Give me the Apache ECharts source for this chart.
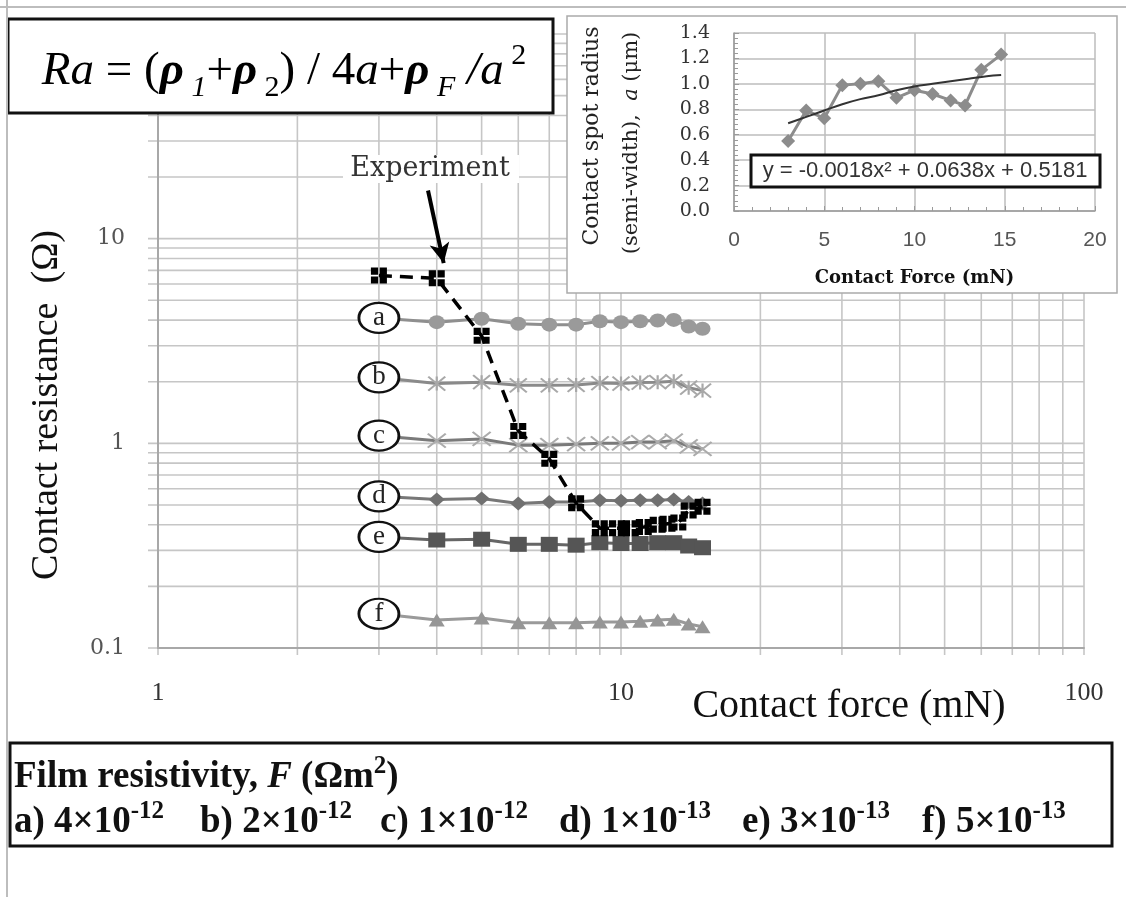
<!DOCTYPE html>
<html><head><meta charset="utf-8">
<script src="https://cdn.jsdelivr.net/npm/echarts@6/dist/echarts.min.js"></script>
<style>html,body{margin:0;padding:0;background:#fff}#c{width:1126px;height:897px}</style>
</head><body><div id="c"></div>
<script>
// ---------- data ----------
const forceX = [3, 4, 5, 6, 7, 8, 9, 10, 11, 12, 13, 14, 15];
const resA = [4.10, 3.91, 4.06, 3.84, 3.80, 3.80, 3.95, 3.91, 3.95, 3.98, 4.01, 3.72, 3.63];
const resB = [2.10, 1.96, 1.99, 1.92, 1.92, 1.93, 1.97, 1.96, 1.98, 1.99, 2.01, 1.87, 1.81];
const resC = [1.09, 1.03, 1.05, 0.98, 0.98, 0.99, 1.00, 1.00, 1.015, 1.015, 1.03, 0.967, 0.94];
const resD = [0.551, 0.531, 0.537, 0.508, 0.517, 0.517, 0.527, 0.524, 0.527, 0.527, 0.531, 0.517, 0.508];
const resE = [0.349, 0.337, 0.340, 0.321, 0.321, 0.318, 0.327, 0.324, 0.324, 0.327, 0.327, 0.315, 0.309];
const resF = [0.147, 0.137, 0.140, 0.133, 0.133, 0.133, 0.134, 0.134, 0.135, 0.137, 0.138, 0.131, 0.127];
const seriesLetters = ['a', 'b', 'c', 'd', 'e', 'f'];

const expForce = [3, 4, 5, 6, 7, 8, 9, 9.8, 10.5, 11.2, 12, 12.6, 13.3, 14, 15];
const expRes = [6.6, 6.4, 3.35, 1.15, 0.84, 0.51, 0.385, 0.385, 0.385, 0.39, 0.40, 0.405, 0.41, 0.47, 0.49];

const insetForce = [3, 4, 5, 6, 7, 8, 9, 10, 11, 12, 12.8, 13.7, 14.8];
const insetRadius = [0.55, 0.79, 0.73, 0.99, 1.00, 1.02, 0.89, 0.95, 0.92, 0.87, 0.83, 1.11, 1.23];
const trendForce = [3, 4, 5, 6, 7, 8, 9, 10, 11, 12, 13, 14, 14.8];
const trendRadius = [0.69, 0.74, 0.79, 0.84, 0.88, 0.91, 0.95, 0.98, 1.00, 1.02, 1.04, 1.06, 1.07];

const xGridValues = [1, 2, 3, 4, 5, 6, 7, 8, 9, 10, 20, 30, 40, 50, 60, 70, 80, 90, 100];
const yGridValues = [0.1, 0.2, 0.3, 0.4, 0.5, 0.6, 0.7, 0.8, 0.9, 1, 2, 3, 4, 5, 6, 7, 8, 9, 10, 20, 30, 40, 50, 60, 70, 80, 90, 100];
const xTickLabels = ['1', '10', '100'];
const yTickLabels = ['0.1', '1', '10', ''];

const filmMantissa = ['4', '2', '1', '1', '3', '5'];
const filmExponent = ['-12', '-12', '-12', '-13', '-13', '-13'];
const trendEquation = 'y = -0.0018x² + 0.0638x + 0.5181';

// ---------- styles ----------
const SERIF = "'Liberation Serif','Times New Roman',serif";
const WIDE = "'DejaVu Serif',serif";
const SANS = "'Liberation Sans',Arial,sans-serif";

const mainStyles = [
  {symbol: 'circle', size: [16, 14], color: '#9a9a9a', line: '#8f8f8f'},
  {symbol: 'path://M5,0L5,10M0,0L10,10M0,10L10,0', size: [17, 14], color: '#a8a8a8', line: '#8a8a8a', stroke: true},
  {symbol: 'path://M0,0L10,10M0,10L10,0', size: [18, 14], color: '#ababab', line: '#7a7a7a', stroke: true},
  {symbol: 'diamond', size: [16, 14], color: '#707070', line: '#777777'},
  {symbol: 'rect', size: [17, 15], color: '#555555', line: '#666666'},
  {symbol: 'triangle', size: [16, 13], color: '#969696', line: '#9a9a9a'}
];
const expSymbol = 'path://M0,0h9v9h-9z M11,0h9v9h-9z M0,11h9v9h-9z M11,11h9v9h-9z';

const mainValues = [resA, resB, resC, resD, resE, resF];
const mainSeries = mainValues.map((vals, k) => {
  const st = mainStyles[k];
  return {
    type: 'line', xAxisIndex: 0, yAxisIndex: 0, z: 5,
    symbol: st.symbol, symbolSize: st.size, showSymbol: true,
    itemStyle: st.stroke ? {color: st.color, borderColor: st.color, borderWidth: 2} : {color: st.color},
    lineStyle: {color: st.line, width: 3},
    emphasis: {disabled: true},
    label: {show: false},
    data: forceX.map((x, i) => i === 0 ? {
      value: [x, vals[i]], symbol: 'circle', symbolSize: [40, 30],
      itemStyle: {color: '#ffffff', borderColor: '#111111', borderWidth: 2.5},
      label: {show: true, position: 'inside', formatter: seriesLetters[k], fontFamily: SERIF, fontSize: 27, color: '#222'}
    } : [x, vals[i]])
  };
});

const gridData = xGridValues.map(v => [v, 0.1, 0]).concat(yGridValues.map(v => [1, v, 1]));

const legendRich = {
  b: {fontFamily: SERIF, fontWeight: 'bold', fontSize: 37, lineHeight: 46, fill: '#111'},
  bi: {fontFamily: SERIF, fontWeight: 'bold', fontStyle: 'italic', fontSize: 37, lineHeight: 46, fill: '#111'},
  sp: {fontFamily: SERIF, fontWeight: 'bold', fontSize: 25, lineHeight: 32, verticalAlign: 'top', fill: '#111'}
};

const option = {
  animation: false,
  backgroundColor: '#ffffff',
  grid: [
    {left: 158, top: 34, width: 926, height: 614, outerBoundsMode: 'none'},
    {left: 734, top: 33, width: 361, height: 178, outerBoundsMode: 'none'}
  ],
  xAxis: [
    {type: 'log', logBase: 10, min: 1, max: 100, gridIndex: 0, z: 3,
     axisLine: {show: true, lineStyle: {color: '#a8a8a8', width: 2}},
     axisTick: {show: false}, splitLine: {show: false},
     axisLabel: {margin: 32, fontFamily: SERIF, fontSize: 26, color: '#333',
       formatter: v => xTickLabels[Math.round(Math.log10(v))] || ''}},
    {type: 'value', min: 0, max: 20, interval: 5, gridIndex: 1, z: 11,
     axisLine: {show: true, lineStyle: {color: '#9a9a9a', width: 1.5}},
     axisTick: {show: true, inside: true, length: 5, lineStyle: {color: '#9a9a9a'}},
     minorTick: {show: true, splitNumber: 5, length: 4, lineStyle: {color: '#9a9a9a'}},
     splitLine: {show: true, lineStyle: {color: '#bdbdbd', width: 1.5}},
     axisLabel: {margin: 19, fontFamily: SANS, fontSize: 21, color: '#555'},
     name: 'Contact Force (mN)', nameLocation: 'middle', nameGap: 58,
     nameTextStyle: {fontFamily: WIDE, fontWeight: 'bold', fontSize: 18, color: '#111'}}
  ],
  yAxis: [
    {type: 'log', logBase: 10, min: 0.1, max: 100, gridIndex: 0, z: 3,
     axisLine: {show: true, lineStyle: {color: '#a8a8a8', width: 2}},
     axisTick: {show: false}, splitLine: {show: false},
     axisLabel: {margin: 33, fontFamily: WIDE, fontSize: 22, color: '#555',
       formatter: v => yTickLabels[Math.round(Math.log10(v)) + 1] || ''}},
    {type: 'value', min: 0, max: 1.4, interval: 0.2, gridIndex: 1, z: 11,
     axisLine: {show: true, lineStyle: {color: '#9a9a9a', width: 1.5}},
     axisTick: {show: true, inside: true, length: 5, lineStyle: {color: '#9a9a9a'}},
     minorTick: {show: true, splitNumber: 5, length: 4, lineStyle: {color: '#9a9a9a'}},
     splitLine: {show: true, lineStyle: {color: '#bdbdbd', width: 1.5}},
     axisLabel: {margin: 24, fontFamily: WIDE, fontSize: 19, color: '#333', formatter: v => v.toFixed(1)}}
  ],
  series: [
    {type: 'custom', xAxisIndex: 0, yAxisIndex: 0, z: 1, silent: true, clip: false,
     data: gridData,
     renderItem: (params, api) => {
       const kind = api.value(2);
       if (kind === 0) {
         const p1 = api.coord([api.value(0), 0.1]);
         const p2 = api.coord([api.value(0), 100]);
         return {type: 'line', shape: {x1: p1[0], y1: p1[1] + 7, x2: p2[0], y2: p2[1]},
                 style: {stroke: '#c6c6c6', lineWidth: 1.6}};
       }
       const p1 = api.coord([1, api.value(1)]);
       const p2 = api.coord([100, api.value(1)]);
       return {type: 'line', shape: {x1: p1[0] - 10, y1: p1[1], x2: p2[0], y2: p2[1]},
               style: {stroke: '#c6c6c6', lineWidth: 1.6}};
     }},
    ...mainSeries,
    {type: 'line', xAxisIndex: 0, yAxisIndex: 0, z: 6,
     symbol: expSymbol, symbolSize: [16, 16], showSymbol: true,
     itemStyle: {color: '#000'},
     lineStyle: {color: '#000', width: 3.5, type: [13, 8]},
     emphasis: {disabled: true},
     data: expForce.map((x, i) => [x, expRes[i]]),
     markLine: {silent: true, animation: false, symbol: ['none', 'arrow'], symbolSize: [15, 20],
       lineStyle: {color: '#000', width: 4, type: 'solid'}, label: {show: false},
       emphasis: {disabled: true},
       data: [[{coord: [3.83, 17.2]}, {coord: [4.14, 7.6]}]]}},
    {type: 'line', xAxisIndex: 1, yAxisIndex: 1, z: 12,
     symbol: 'diamond', symbolSize: [14, 14], showSymbol: true,
     itemStyle: {color: '#8c8c8c'}, lineStyle: {color: '#8c8c8c', width: 3},
     emphasis: {disabled: true},
     data: insetForce.map((x, i) => [x, insetRadius[i]])},
    {type: 'line', xAxisIndex: 1, yAxisIndex: 1, z: 13, smooth: 0.4,
     symbol: 'none', lineStyle: {color: '#333', width: 2},
     emphasis: {disabled: true},
     data: trendForce.map((x, i) => [x, trendRadius[i]]),
     markLine: {silent: true, animation: false, symbol: ['none', 'arrow'], symbolSize: [8, 11],
       lineStyle: {color: '#555', width: 1.3, type: 'solid'}, label: {show: false},
       emphasis: {disabled: true},
       data: [[{coord: [8.86, 0.44]}, {coord: [7.4, 0.84]}]]}}
  ],
  graphic: {elements: [
    // outer frame
    {type: 'line', z: 30, shape: {x1: 0, y1: 7, x2: 1126, y2: 7}, style: {stroke: '#bdbdbd', lineWidth: 2}},
    {type: 'line', z: 30, shape: {x1: 7, y1: 0, x2: 7, y2: 897}, style: {stroke: '#bdbdbd', lineWidth: 2}},
    // formula box
    {type: 'rect', z: 20, shape: {x: 8, y: 19, width: 545, height: 94},
     style: {fill: '#fff', stroke: '#111', lineWidth: 3}},
    {type: 'text', z: 21, x: 284, y: 72,
     style: {text: '{i|Ra}{r| = (}{g|ρ}{si| 1}{r|+}{g|ρ}{s| 2}{r|) / 4}{i|a}{r|+}{g|ρ}{si| F}{i| /a}{sup| 2}',
       align: 'center', verticalAlign: 'middle', textAlign: 'center', textVerticalAlign: 'middle', fill: '#000',
       rich: {
         r: {fontFamily: SERIF, fontSize: 47, lineHeight: 62, verticalAlign: 'middle', fill: '#000'},
         i: {fontFamily: SERIF, fontSize: 47, fontStyle: 'italic', lineHeight: 62, verticalAlign: 'middle', fill: '#000'},
         g: {fontFamily: SERIF, fontSize: 47, fontStyle: 'italic', fontWeight: 'bold', lineHeight: 62, verticalAlign: 'middle', fill: '#000'},
         si: {fontFamily: SERIF, fontSize: 30, fontStyle: 'italic', lineHeight: 42, verticalAlign: 'bottom', fill: '#000'},
         s: {fontFamily: SERIF, fontSize: 30, lineHeight: 42, verticalAlign: 'bottom', fill: '#000'},
         sup: {fontFamily: SERIF, fontSize: 30, lineHeight: 44, verticalAlign: 'top', fill: '#000'}
       }}},
    // inset frame
    {type: 'rect', z: 10, shape: {x: 567, y: 16, width: 550, height: 277},
     style: {fill: '#fff', stroke: '#ababab', lineWidth: 1.5}},
    {type: 'text', z: 14, x: 592, y: 136, rotation: Math.PI / 2,
     style: {text: 'Contact spot radius', fontFamily: WIDE, fontSize: 22, fill: '#222',
       align: 'center', verticalAlign: 'middle', textAlign: 'center', textVerticalAlign: 'middle'}},
    {type: 'text', z: 14, x: 632, y: 143, rotation: Math.PI / 2,
     style: {text: '{r|(semi-width),  }{i|a}{r| (μm)}', fill: '#222',
       align: 'center', verticalAlign: 'middle', textAlign: 'center', textVerticalAlign: 'middle',
       rich: {r: {fontFamily: WIDE, fontSize: 21, fill: '#222'},
              i: {fontFamily: WIDE, fontSize: 21, fontStyle: 'italic', fill: '#222'}}}},
    // trend equation box
    {type: 'rect', z: 14, shape: {x: 751, y: 155, width: 349, height: 32},
     style: {fill: '#fff', stroke: '#111', lineWidth: 3}},
    {type: 'text', z: 15, x: 925, y: 171,
     style: {text: trendEquation, fontFamily: SANS, fontSize: 22, fill: '#333',
       align: 'center', verticalAlign: 'middle', textAlign: 'center', textVerticalAlign: 'middle'}},
    // Experiment label
    {type: 'rect', z: 8, shape: {x: 343, y: 155, width: 176, height: 28}, style: {fill: '#fff'}},
    {type: 'text', z: 9, x: 430, y: 169,
     style: {text: 'Experiment', fontFamily: WIDE, fontSize: 27, fill: '#333',
       align: 'center', verticalAlign: 'middle', textAlign: 'center', textVerticalAlign: 'middle'}},
    // main axis titles
    {type: 'text', z: 9, x: 47, y: 405, rotation: Math.PI / 2,
     style: {text: 'Contact resistance  (Ω)', fontFamily: SERIF, fontSize: 38, fill: '#111',
       align: 'center', verticalAlign: 'middle', textAlign: 'center', textVerticalAlign: 'middle'}},
    {type: 'text', z: 9, x: 849, y: 706,
     style: {text: 'Contact force (mN)', fontFamily: SERIF, fontSize: 40, fill: '#111',
       align: 'center', verticalAlign: 'middle', textAlign: 'center', textVerticalAlign: 'middle'}},
    // legend box
    {type: 'rect', z: 20, shape: {x: 10, y: 743, width: 1102, height: 103},
     style: {fill: '#fff', stroke: '#111', lineWidth: 3}},
    {type: 'text', z: 21, x: 14, y: 777,
     style: {text: '{b|Film resistivity, }{bi|F}{b| (Ωm}{sp|2}{b|)}', fill: '#111',
       align: 'left', verticalAlign: 'middle', textAlign: 'left', textVerticalAlign: 'middle',
       rich: legendRich}}
  ].concat([14, 200, 380, 559, 742, 922].map((lx, k) => ({
    type: 'text', z: 21, x: lx, y: 822,
    style: {text: '{b|' + seriesLetters[k] + ') ' + filmMantissa[k] + '×10}{sp|' + filmExponent[k] + '}', fill: '#111',
      align: 'left', verticalAlign: 'middle', textAlign: 'left', textVerticalAlign: 'middle',
      rich: legendRich}
  })))}
};

const chart = echarts.init(document.getElementById('c'), null, {renderer: 'canvas'});
chart.setOption(option);
</script>
</body></html>
